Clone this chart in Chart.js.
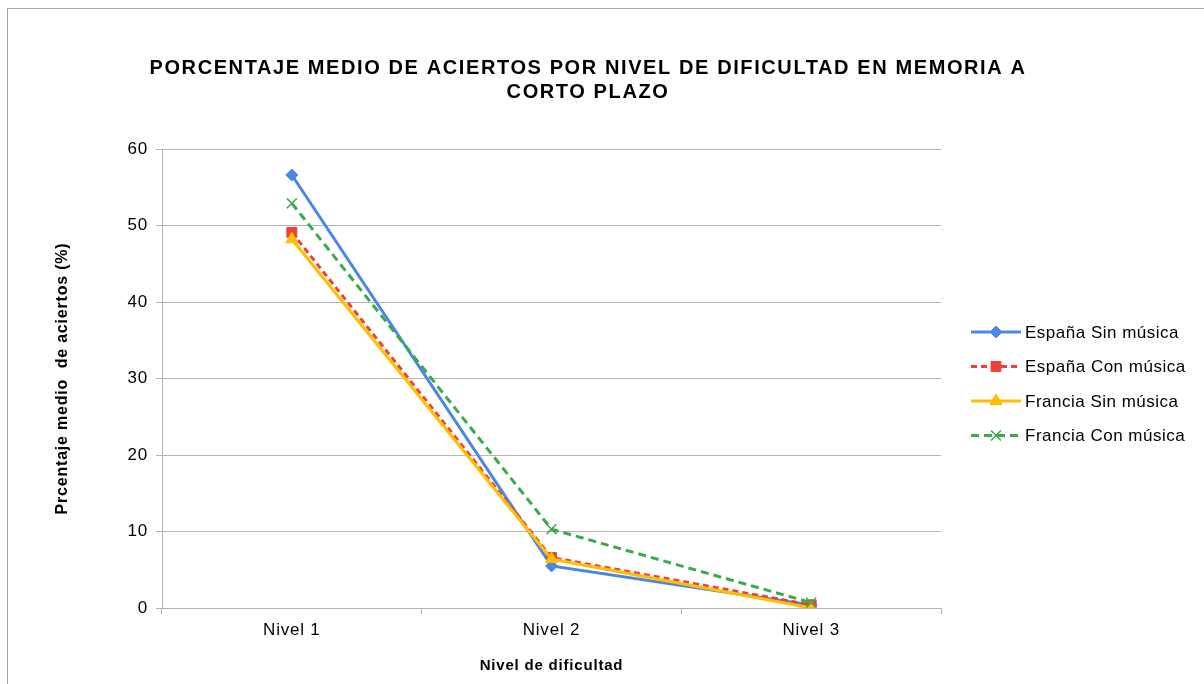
<!DOCTYPE html>
<html>
<head>
<meta charset="utf-8">
<script src="https://cdn.jsdelivr.net/npm/chart.js@4.4.1/dist/chart.umd.min.js"></script>
<style>
    html, body { margin: 0; padding: 0; background: #ffffff; }
    #wrap { width: 1204px; height: 684px; position: relative; }
</style>
</head>
<body>
<div id="wrap"><canvas id="chart" width="1204" height="684"></canvas></div>
<script>
// chart values
const levels = ["Nivel 1", "Nivel 2", "Nivel 3"];
const seriesNames = ["España Sin música", "España Con música", "Francia Sin música", "Francia Con música"];
const espanaSin = [56.6, 5.5, 0.4];
const espanaCon = [49.1, 6.6, 0.4];
const franciaSin = [48.2, 6.4, 0.0];
const franciaCon = [52.9, 10.3, 0.7];
const yTicks = [0, 10, 20, 30, 40, 50, 60];

const titleLines = ["PORCENTAJE MEDIO DE ACIERTOS POR NIVEL DE DIFICULTAD EN MEMORIA A", "CORTO PLAZO"];
const yTitle = "Prcentaje medio  de aciertos (%)";
const xTitle = "Nivel de dificultad";

const FONT = "'Liberation Sans', Arial, sans-serif";
const GRID = "#b4b4b4";

function makeSeries(label, data, color, style, radius, dash, order) {
    return {
        label: label,
        data: data,
        borderColor: color,
        backgroundColor: color,
        pointBackgroundColor: color,
        pointBorderColor: color,
        borderWidth: 3,
        borderDash: dash,
        pointStyle: style,
        pointRadius: radius,
        pointBorderWidth: style === "crossRot" ? 1.5 : 1,
        tension: 0,
        fill: false,
        order: order,
    };
}

const datasets = [
    makeSeries(seriesNames[0], espanaSin, "#4a86e8", "rectRot", 6, [], 4),
    makeSeries(seriesNames[1], espanaCon, "#ee4136", "rect", 7, [6, 4], 3),
    makeSeries(seriesNames[2], franciaSin, "#ffbf00", "triangle", 7, [], 2),
    makeSeries(seriesNames[3], franciaCon, "#3aab4c", "crossRot", 7, [8, 5], 1),
];

// frame, title and legend drawn on the canvas
const decorPlugin = {
    id: "decor",
    beforeDraw(chart) {
        const ctx = chart.ctx;
        ctx.save();
        ctx.fillStyle = "#ffffff";
        ctx.fillRect(0, 0, chart.width, chart.height);
        ctx.strokeStyle = "#a6a6a6";
        ctx.lineWidth = 1;
        ctx.strokeRect(7.5, 8.5, chart.width, chart.height);
        ctx.restore();
        // the reference text is set a little wider than canvas default
        ctx.letterSpacing = "0.8px";
    },
    afterDraw(chart) {
        const ctx = chart.ctx;
        ctx.save();
        ctx.fillStyle = "#000000";
        ctx.textAlign = "center";
        ctx.textBaseline = "middle";
        ctx.font = "bold 20px " + FONT;
        ctx.letterSpacing = "1.6px";
        titleLines.forEach((line, i) => ctx.fillText(line, 588, 68 + i * 24));

        chart.data.datasets.forEach((ds, i) => {
            const y = 332 + i * 34.5;
            ctx.save();
            ctx.strokeStyle = ds.borderColor;
            ctx.lineWidth = 3;
            ctx.setLineDash(ds.borderDash);
            ctx.beginPath();
            ctx.moveTo(971, y);
            ctx.lineTo(1021, y);
            ctx.stroke();
            ctx.setLineDash([]);
            ctx.fillStyle = ds.backgroundColor;
            ctx.strokeStyle = ds.borderColor;
            ctx.lineWidth = ds.pointBorderWidth;
            if (Chart.helpers && Chart.helpers.drawPoint) {
                Chart.helpers.drawPoint(ctx, {
                    pointStyle: ds.pointStyle,
                    radius: ds.pointRadius,
                    rotation: 0,
                    borderWidth: ds.pointBorderWidth,
                }, 996, y);
            }
            ctx.restore();
            ctx.fillStyle = "#000000";
            ctx.textAlign = "left";
            ctx.textBaseline = "middle";
            ctx.font = "17px " + FONT;
            ctx.letterSpacing = "0.5px";
            ctx.fillText(ds.label, 1025, y + 1);
        });
        ctx.restore();
    },
};

new Chart(document.getElementById("chart"), {
    type: "line",
    data: { labels: levels, datasets: datasets },
    plugins: [decorPlugin],
    options: {
        responsive: false,
        animation: false,
        devicePixelRatio: 1,
        layout: { padding: { left: 0, right: 263, top: 149, bottom: 0 } },
        plugins: {
            legend: { display: false },
            title: { display: false },
            tooltip: { enabled: false },
        },
        scales: {
            x: {
                type: "category",
                offset: true,
                afterFit(scale) { scale.height = 76; },
                grid: { offset: true, drawOnChartArea: false, drawTicks: true, tickLength: 6, color: GRID },
                border: { color: GRID },
                ticks: { color: "#000", padding: 6, font: { family: FONT, size: 17 } },
                title: {
                    display: true,
                    text: xTitle,
                    color: "#000",
                    padding: { top: 0, bottom: 9 },
                    font: { family: FONT, size: 15, weight: "bold" },
                },
            },
            y: {
                min: 0,
                max: 60,
                afterFit(scale) { scale.width = 162; },
                afterBuildTicks(scale) { scale.ticks = yTicks.map((v) => ({ value: v })); },
                grid: { color: GRID, tickLength: 6 },
                border: { color: GRID },
                ticks: { color: "#000", padding: 8, font: { family: FONT, size: 17 } },
                title: {
                    display: true,
                    text: yTitle,
                    color: "#000",
                    padding: { top: 53, bottom: 0 },
                    font: { family: FONT, size: 16, weight: "bold" },
                },
            },
        },
    },
});
</script>
</body>
</html>
